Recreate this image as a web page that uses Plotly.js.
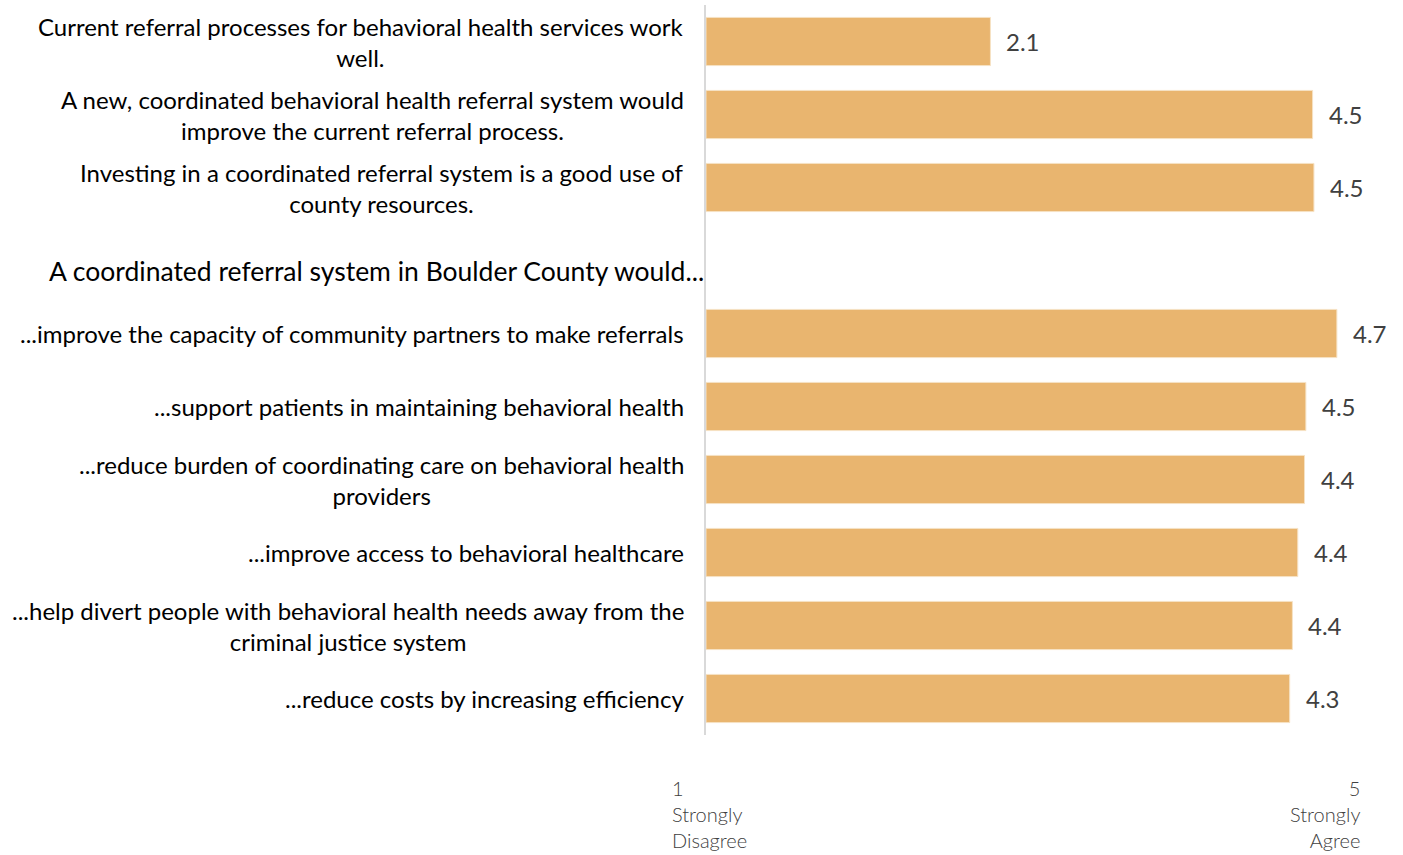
<!DOCTYPE html>
<html>
<head>
<meta charset="utf-8">
<script src="https://cdn.plot.ly/plotly-3.0.1.min.js"></script>
<style>html,body{margin:0;padding:0;background:#fff;}#chart{width:1403px;height:855px;}</style>
</head>
<body>
<div id="chart"></div>
<script>
const categories = [
  "Current referral processes for behavioral health services work<br>well.",
  "A new, coordinated behavioral health referral system would<br>improve the current referral process.",
  "Investing in a coordinated referral system is a good use of<br>county resources.",
  "HEADING",
  "...improve the capacity of community partners to make referrals",
  "...support patients in maintaining behavioral health",
  "...reduce burden of coordinating care on behavioral health<br>providers",
  "...improve access to behavioral healthcare",
  "...help divert people with behavioral health needs away from the<br>criminal justice system",
  "...reduce costs by increasing efficiency"
];
const values = [2.11, 4.50, 4.51, null, 4.68, 4.45, 4.44, 4.39, 4.35, 4.33];
const labels = ["2.1", "4.5", "4.5", "", "4.7", "4.5", "4.4", "4.4", "4.4", "4.3"];
const heading = "A coordinated referral system in Boulder County would...";
const scaleLow = "1<br>Strongly<br>Disagree";
const scaleHigh = "5<br>Strongly<br>Agree";

const FONT = "Lato, 'Open Sans', sans-serif";

const trace = {
  type: "bar",
  orientation: "h",
  x: values,
  y: categories,
  marker: {color: "#E9B56F", line: {color: "#F6E2C4", width: 1}},
  hoverinfo: "skip"
};

const annotations = [];
categories.forEach((c, i) => {
  if (c === "HEADING") {
    annotations.push({xref: "paper", yref: "y", x: 0, y: c, xanchor: "right", yanchor: "middle",
      xshift: 0, yshift: -10, text: heading, showarrow: false, align: "right",
      font: {family: FONT, size: 26.5, color: "#000"}});
  } else {
    annotations.push({xref: "paper", yref: "y", x: 0, y: c, xanchor: "right", yanchor: "middle",
      xshift: -20, text: c, showarrow: false, align: "center",
      font: {family: FONT, size: 24, color: "#000"}});
  }
  if (values[i] !== null) {
    annotations.push({xref: "x", yref: "y", x: values[i], y: c, xanchor: "left", yanchor: "middle",
      xshift: 14, text: labels[i], showarrow: false,
      font: {family: FONT, size: 24, color: "#404040"}});
  }
});
annotations.push({xref: "paper", yref: "paper", x: 0, y: -0.054, xanchor: "left", yanchor: "top",
  xshift: -36, text: scaleLow, showarrow: false, align: "left",
  font: {family: FONT, size: 20, color: "#404040", weight: 300}});
annotations.push({xref: "paper", yref: "paper", x: 1, y: -0.054, xanchor: "right", yanchor: "top",
  xshift: -18, text: scaleHigh, showarrow: false, align: "right",
  font: {family: FONT, size: 20, color: "#404040", weight: 300}});

const layout = {
  width: 1403, height: 855,
  margin: {l: 706, r: 23, t: 5, b: 120},
  paper_bgcolor: "#fff", plot_bgcolor: "#fff",
  showlegend: false,
  bargap: 0.34,
  font: {family: FONT},
  xaxis: {range: [0, 5], showgrid: false, zeroline: false, showticklabels: false, ticks: "", showline: false, fixedrange: true},
  yaxis: {type: "category", autorange: "reversed", showticklabels: false, ticks: "", showgrid: false,
          zeroline: false, showline: true, linecolor: "#D9D9D9", linewidth: 2, fixedrange: true},
  annotations: annotations
};

Plotly.newPlot("chart", [trace], layout, {displayModeBar: false, staticPlot: true});
</script>
</body>
</html>
